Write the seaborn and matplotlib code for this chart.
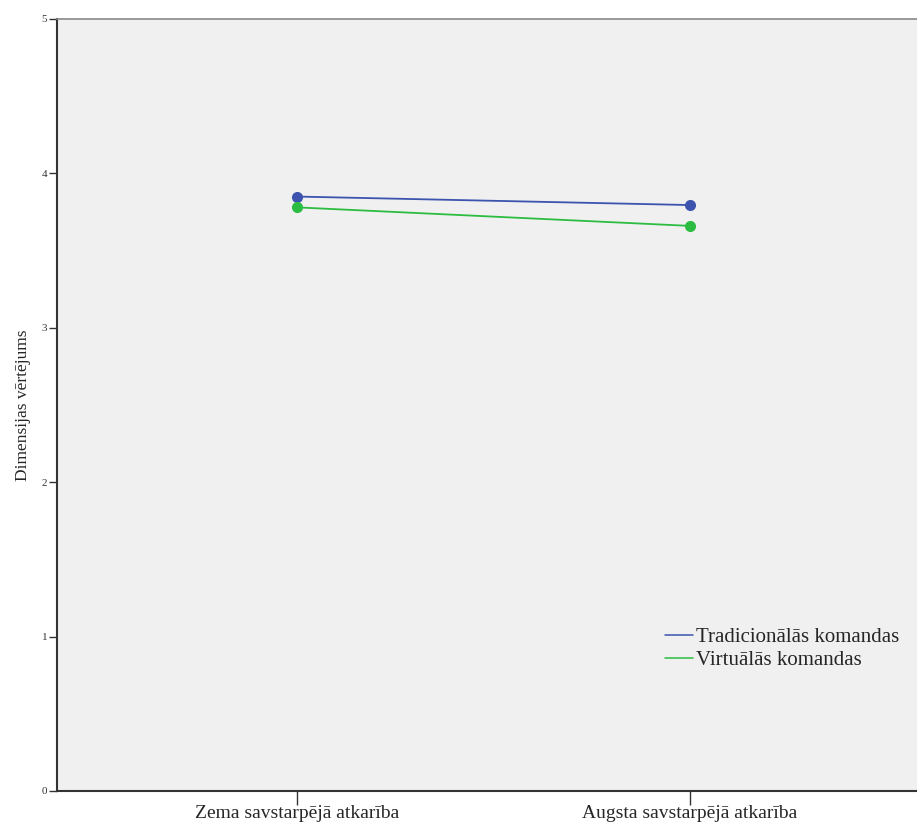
import matplotlib
matplotlib.use("Agg")
import matplotlib.pyplot as plt
from matplotlib.lines import Line2D
import pandas as pd
import seaborn as sns

# values
categories = ["Zema savstarpējā atkarība", "Augsta savstarpējā atkarība"]
groups = ["Tradicionālās komandas", "Virtuālās komandas"]
trad_vals = [3.85, 3.795]
virt_vals = [3.78, 3.66]
y_ticks = [0, 1, 2, 3, 4, 5]

df = pd.DataFrame({
    "kategorija": categories * 2,
    "vertejums": trad_vals + virt_vals,
    "grupa": [groups[0]] * 2 + [groups[1]] * 2,
})

sns.set_style("white")
plt.rcParams["font.family"] = ["Liberation Serif", "DejaVu Serif"]

colors = {groups[0]: "#3c54ae", groups[1]: "#2cbc41"}

fig = plt.figure(figsize=(9.17, 8.25), dpi=100)
ax = fig.add_axes([57 / 917, 1 - 791 / 825, 1 - 57 / 917, (791 - 19) / 825])
ax.set_facecolor("#f0f0f0")

sns.lineplot(data=df, x="kategorija", y="vertejums", hue="grupa",
             palette=colors, marker="o", markersize=8, markeredgewidth=0,
             linewidth=1.3, legend=False, ax=ax, sort=False)

ax.set_ylim(0, 5)
ax.set_yticks(y_ticks)
ax.set_xlim(-0.611, 1.578)
ax.set_xticks([0, 1])
ax.set_xticklabels(categories, fontsize=14)
ax.tick_params(axis="y", left=True, labelsize=8, length=6, width=1,
               color="#333333", labelcolor="#333333", pad=1)
ax.tick_params(axis="x", bottom=True, length=10, width=1, color="#333333", pad=0)
ax.set_xlabel("")
ax.set_ylabel("Dimensijas vērtējums", fontsize=12.5, labelpad=8)

for side in ["left", "bottom"]:
    ax.spines[side].set_color("#333333")
    ax.spines[side].set_linewidth(1.5)
ax.spines["top"].set_color("#888888")
ax.spines["top"].set_linewidth(1.2)
ax.spines["right"].set_visible(False)

handles = [Line2D([0], [0], color=colors[g], lw=1.1) for g in groups]
ax.legend(handles, groups, loc="center left", bbox_to_anchor=(0.707, 0.184),
          frameon=False, fontsize=15, handlelength=1.35, handletextpad=0.15,
          labelspacing=0.15, borderpad=0, borderaxespad=0)

fig.savefig("out.png", dpi=100)
